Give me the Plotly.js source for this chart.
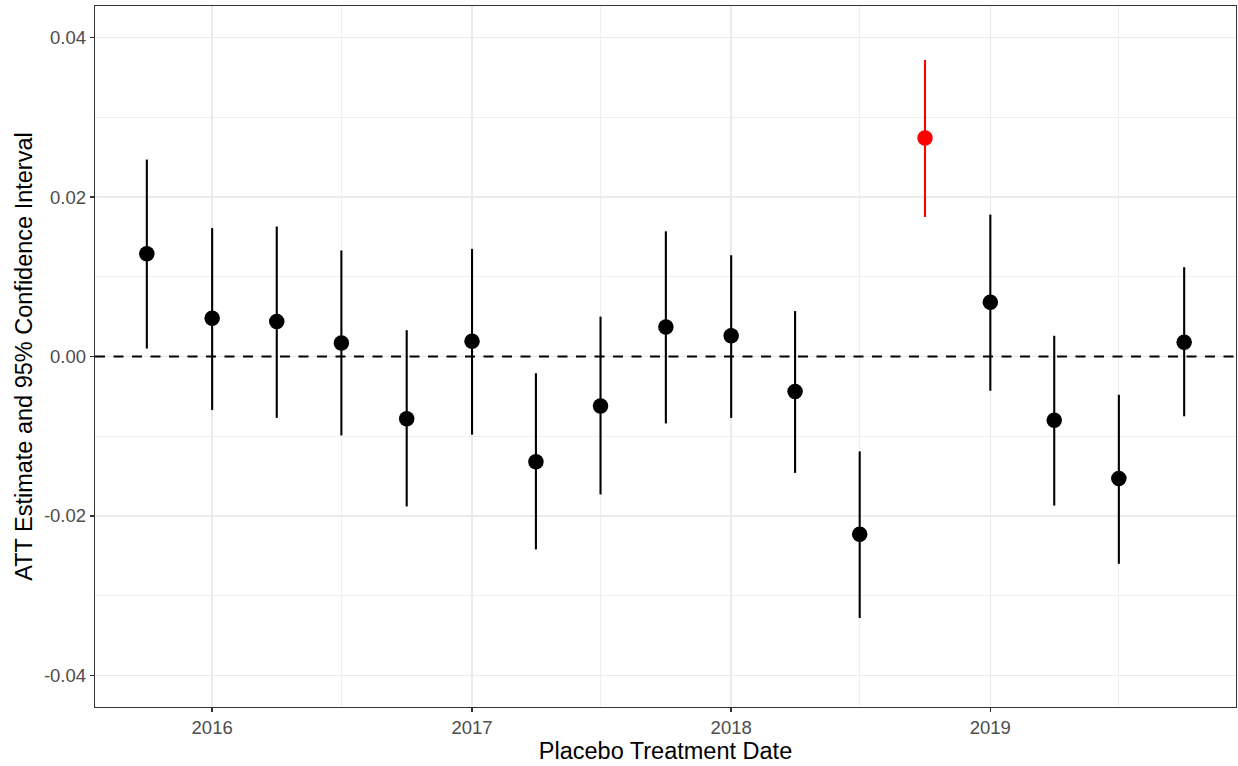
<!DOCTYPE html>
<html>
<head>
<meta charset="utf-8">
<script src="https://cdn.plot.ly/plotly-3.0.1.min.js"></script>
<style>html,body{margin:0;padding:0;background:#fff}</style>
</head>
<body>
<div id="chart" style="width:1238px;height:766px"></div>
<script>
const dates = ["2015-10-01","2016-01-01","2016-04-01","2016-07-01","2016-10-01","2017-01-01","2017-04-01","2017-07-01","2017-10-01","2018-01-01","2018-04-01","2018-07-01","2018-10-01","2019-01-01","2019-04-01","2019-07-01","2019-10-01"];
const att   = [0.0129, 0.0048, 0.0044, 0.0017, -0.0078, 0.0019, -0.0132, -0.0062, 0.0037, 0.0026, -0.0044, -0.0223, 0.0274, 0.0068, -0.0080, -0.0153, 0.0018];
const ciLow = [0.0010, -0.0067, -0.0077, -0.0099, -0.0188, -0.0098, -0.0242, -0.0173, -0.0084, -0.0077, -0.0146, -0.0328, 0.0175, -0.0043, -0.0187, -0.0260, -0.0075];
const ciHigh= [0.0247, 0.0161, 0.0163, 0.0133, 0.0033, 0.0135, -0.0021, 0.0050, 0.0157, 0.0127, 0.0057, -0.0119, 0.0372, 0.0178, 0.0026, -0.0048, 0.0112];
const isActual = [false,false,false,false,false,false,false,false,false,false,false,false,true,false,false,false,false];
const yTickVals = [-0.04, -0.02, 0, 0.02, 0.04];
const yTickText = ["-0.04", "-0.02", "0.00", "0.02", "0.04"];

function makeTrace(flag, color) {
  const idx = dates.map((d,i)=>i).filter(i => isActual[i] === flag);
  return {
    type: 'scatter', mode: 'markers',
    x: idx.map(i=>dates[i]),
    y: idx.map(i=>att[i]),
    marker: {color: color, size: 15.5},
    error_y: {
      type: 'data', symmetric: false,
      array: idx.map(i=>ciHigh[i]-att[i]),
      arrayminus: idx.map(i=>att[i]-ciLow[i]),
      color: color, thickness: 2.1, width: 0
    },
    showlegend: false, hoverinfo: 'x+y'
  };
}

const data = [makeTrace(false, '#000000'), makeTrace(true, '#FF0000')];

const layout = {
  width: 1238, height: 766,
  paper_bgcolor: '#ffffff', plot_bgcolor: '#ffffff',
  margin: {l: 95, r: 2, t: 6, b: 59},
  font: {family: 'Liberation Sans, Arial, sans-serif', color: '#4D4D4D'},
  xaxis: {
    type: 'date',
    range: ['2015-07-20', '2019-12-13'],
    tick0: '2016-01-01', dtick: 'M12', tickformat: '%Y',
    ticks: 'outside', ticklen: 4, tickwidth: 1.5, tickcolor: '#333333',
    tickfont: {size: 18.5, color: '#4D4D4D'},
    showgrid: true, gridcolor: '#EBEBEB', gridwidth: 1.4,
    minor: {dtick: 'M6', tick0: '2016-01-01', showgrid: true, gridcolor: '#EBEBEB', gridwidth: 0.8, ticks: ''},
    showline: true, mirror: true, linecolor: '#333333', linewidth: 1.2,
    zeroline: false,
    title: {text: 'Placebo Treatment Date', font: {size: 23.5, color: '#000000'}, standoff: 2}
  },
  yaxis: {
    range: [-0.04396, 0.04396],
    tickvals: yTickVals, ticktext: yTickText,
    ticks: 'outside', ticklen: 4, tickwidth: 1.5, tickcolor: '#333333',
    tickfont: {size: 18.5, color: '#4D4D4D'},
    showgrid: true, gridcolor: '#EBEBEB', gridwidth: 1.4,
    minor: {dtick: 0.01, tick0: 0.01, showgrid: true, gridcolor: '#EBEBEB', gridwidth: 0.8, ticks: ''},
    showline: true, mirror: true, linecolor: '#333333', linewidth: 1.2,
    zeroline: false,
    title: {text: 'ATT Estimate and 95% Confidence Interval', font: {size: 23.5, color: '#000000'}, standoff: 4}
  },
  shapes: [{
    type: 'line', xref: 'paper', yref: 'y', x0: 0, x1: 1, y0: 0, y1: 0,
    line: {color: '#000000', width: 2, dash: '10px,8.5px'}, layer: 'above'
  }]
};

Plotly.newPlot('chart', data, layout, {displayModeBar: false, staticPlot: true});
</script>
</body>
</html>
